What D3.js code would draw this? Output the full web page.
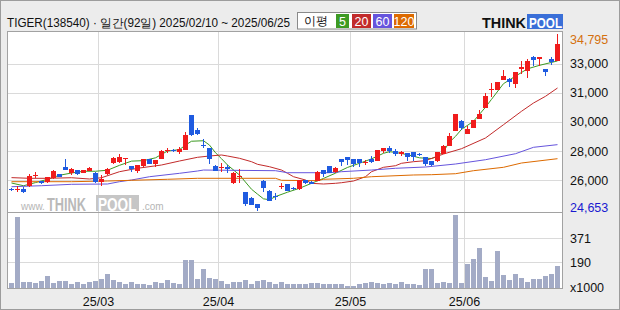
<!DOCTYPE html>
<html>
<head>
<meta charset="utf-8">
<script src="https://cdn.jsdelivr.net/npm/d3@7"></script>
<style>
  body { margin: 0; background: #fff; }
  svg { display: block; }
  text { font-family: "Liberation Sans", Arial, sans-serif; }
</style>
</head>
<body>
<div id="chart"></div>
<script>
// trading days 2025/02/10 ~ 2025/06/25 (92)
const dates = [
  "02/10","02/11","02/12","02/13","02/14","02/17","02/18","02/19","02/20","02/21","02/24","02/25","02/26","02/27","02/28",
  "03/04","03/05","03/06","03/07","03/10","03/11","03/12","03/13","03/14","03/17","03/18","03/19","03/20","03/21","03/24","03/25","03/26","03/27","03/28","03/31",
  "04/01","04/02","04/03","04/04","04/07","04/08","04/09","04/10","04/11","04/14","04/15","04/16","04/17","04/18","04/21","04/22","04/23","04/24","04/25","04/28","04/29","04/30",
  "05/02","05/07","05/08","05/09","05/12","05/13","05/14","05/15","05/16","05/19","05/20","05/21","05/22","05/23","05/26","05/27","05/28","05/29","05/30",
  "06/02","06/04","06/05","06/09","06/10","06/11","06/12","06/13","06/16","06/17","06/18","06/19","06/20","06/23","06/24","06/25"
];
const opens = [25910,25890,25895,26100,26685,26370,26295,26525,26775,27190,26815,27000,26845,26960,26815,
  26295,26755,27385,27480,27670,27230,26960,27230,27615,27330,27630,28100,28150,28015,28150,30155,29295,28445,28245,27250,
  27185,27190,26240,26615,25725,25415,25055,26390,25800,25535,26085,26190,25965,25895,26430,26335,26390,27000,27230,26870,27630,27730,
  27630,27630,27440,27630,27535,28090,28245,28110,27920,27960,28015,27905,27730,27500,27500,27935,28395,29255,29795,
  29080,29410,29925,30555,31630,31605,32175,32235,31930,32805,32690,33475,33380,32790,33360,33265];
const highs = [25990,26085,26045,26755,26905,26400,26610,27000,26800,27615,27115,27020,27030,27190,26905,
  26715,27090,27730,27920,27690,27250,27310,27640,27640,27600,28120,28245,28220,28305,29160,30180,29390,28760,28270,27270,
  27420,27290,26870,27040,25750,25440,25080,26410,25830,25665,26275,26210,26000,26450,26450,26355,26930,27020,27250,27160,27650,27750,
  27650,27650,27575,27805,28170,28265,28375,28190,28070,27980,28040,27975,27750,27520,28060,28420,29120,30230,29885,
  29505,29870,30455,31415,31985,32065,32750,32255,32640,33230,33360,33515,33480,32810,33460,34795];
const lows = [25800,25760,25695,26045,26525,26210,26270,26500,26600,26980,26715,26730,26820,26940,26240,
  26100,26730,27360,27385,27290,26870,26845,27200,27330,27190,27610,27960,28050,27900,28120,28950,29030,28245,27345,26940,
  26905,26845,26215,26275,24955,24975,24653,25760,25200,25285,25895,25790,25880,25870,26215,26180,26370,26620,26820,26850,27250,27290,
  27155,27190,27290,27420,27510,27960,27960,27820,27820,27535,27535,27805,27230,27215,27480,27915,28375,29235,29310,
  29060,29390,29905,30535,31185,31585,32155,31760,31700,32520,32275,32945,32945,32370,33000,33245];
const closes = [25885,25910,25725,26660,26705,26240,26585,26945,26620,27000,27040,26755,27000,27100,26330,
  26505,27060,27705,27730,27680,27075,27290,27615,27355,27575,28090,28120,28130,28205,29005,29005,29050,28430,27615,26960,
  27200,27040,26845,26630,25055,25000,24805,25955,25225,25520,26100,25810,25955,26430,26240,26200,26905,26775,26845,27135,27445,27575,
  27330,27385,27455,27445,28150,28245,28090,27920,28050,27765,27730,27890,27345,27305,28035,28395,28965,30210,29410,
  29350,29850,30210,31225,31645,32045,32370,32045,32615,32885,33230,33320,33460,32635,33205,34240];
// volume, x1000
const volumes = [33,534,40,40,35,50,86,35,48,48,28,40,30,40,48,
  63,101,55,43,30,40,30,30,18,40,35,55,35,30,206,206,63,138,70,65,
  50,30,38,43,55,28,50,55,40,30,40,25,28,25,30,33,33,23,28,28,23,15,
  15,30,33,40,33,30,33,23,38,28,28,18,143,143,35,40,35,551,35,
  176,214,297,81,50,274,93,55,101,70,40,63,63,86,100,161];

// moving averages: [day index, value]
const ma5 = [[0,26257],[2,26100],[4,26280],[6,26470],[8,26700],[10,26830],[12,26930],[14,26930],[16,26990],[18,27270],
  [20,27510],[22,27540],[24,27700],[26,28090],[28,28170],[29,28430],[30,28650],[32,28680],[33,28430],[34,27990],[35,27650],
  [36,27290],[38,26716],[40,25900],[41,25620],[42,25350],[43,25300],[44,25480],[46,25730],[48,25954],[50,26240],[52,26520],
  [54,26820],[56,27150],[58,27386],[60,27640],[62,27960],[63,28050],[64,28010],[66,27880],[68,27700],[70,27660],[71,27780],
  [72,28074],[73,28600],[74,28930],[75,29330],[77,29793],[79,30600],[80,31050],[82,31950],[84,32380],[86,32800],[88,33000],[91,33250]];
const ma20 = [[0,26565],[3,26526],[6,26526],[10,26560],[13,26486],[15,26560],[18,26905],[21,27100],[25,27288],[28,27518],
  [31,27730],[33,27804],[35,27862],[36,27804],[38,27672],[40,27478],[41,27329],[43,27190],[45,27000],[46,26813],[47,26618],
  [49,26429],[50,26240],[52,26200],[54,26240],[55,26274],[57,26372],[59,26618],[60,26905],[62,27157],[64,27248],[65,27386],
  [67,27478],[69,27535],[72,27919],[75,28223],[79,28836],[82,29598],[85,30366],[87,30841],[89,31225],[91,31700]];
const ma60 = [[0,26045],[5,26102],[10,26183],[16,26200],[18,26332],[20,26429],[23,26618],[28,26813],[31,26945],[32,27000],
  [44,26962],[46,26847],[53,26847],[55,26905],[60,27000],[64,27100],[69,27174],[74,27346],[79,27592],[84,27936],[87,28303],[91,28455]];
const ma120 = [[0,26332],[10,26332],[16,26372],[20,26412],[26,26470],[31,26526],[44,26526],[45,26412],[51,26389],[52,26470],
  [57,26526],[60,26618],[67,26716],[70,26733],[74,26790],[77,26962],[82,27157],[85,27403],[91,27650]];

const priceHigh = 34795, priceLow = 24653;
const priceTicks = [33080, 31430, 29770, 28090, 26410];
const priceTickLabels = ["33,000", "31,000", "30,000", "28,000", "26,000"];
const volTicks = [371, 190];
const volMax = 570;

const maNames = ["5", "20", "60", "120"];
const maColors = ["#3d9a23", "#c22b2b", "#6655dd", "#dd6a00"];
const upColor = "#f01c1c", downColor = "#1f5be0";

const W = 620, H = 310;
const plot = {left: 7.5, right: 562.5, top: 31.5, mid: 212.5, bottom: 288};

const svg = d3.select("#chart").append("svg")
  .attr("width", W).attr("height", H)
  .attr("viewBox", `0 0 ${W} ${H}`);

svg.append("rect").attr("x", 0.5).attr("y", 0.5).attr("width", W - 1).attr("height", H - 1)
  .attr("fill", "#ececec").attr("stroke", "#9c9c9c");
svg.append("rect").attr("x", plot.left).attr("y", plot.top)
  .attr("width", plot.right - plot.left).attr("height", plot.bottom - plot.top)
  .attr("fill", "#fff");

const xScale = d3.scaleBand().domain(d3.range(dates.length)).range([8.5, 8.5 + 6 * dates.length]);
const xc = i => xScale(i) + xScale.bandwidth() / 2;
const yScale = d3.scaleLinear().domain([priceLow, priceHigh]).range([211, 34]);
const vScale = d3.scaleLinear().domain([0, volMax]).range([287.5, 212]);

const grid = svg.append("g").attr("stroke", "#dadada").attr("shape-rendering", "crispEdges");
priceTicks.forEach(v => {
  grid.append("line").attr("x1", plot.left).attr("x2", plot.right)
    .attr("y1", Math.round(yScale(v)) + 0.5).attr("y2", Math.round(yScale(v)) + 0.5);
});
volTicks.forEach(v => {
  grid.append("line").attr("x1", plot.left).attr("x2", plot.right)
    .attr("y1", Math.round(vScale(v)) + 0.5).attr("y2", Math.round(vScale(v)) + 0.5);
});
const monthStarts = d3.range(1, dates.length).filter(i => dates[i].slice(0, 2) !== dates[i - 1].slice(0, 2));
monthStarts.forEach(i => {
  grid.append("line").attr("x1", xScale(i) - 0.5).attr("x2", xScale(i) - 0.5)
    .attr("y1", plot.top).attr("y2", plot.bottom);
});

// watermark
const wm = svg.append("g").attr("font-weight", "bold");
wm.append("text").attr("x", 21).attr("y", 210).attr("font-size", 10).attr("font-weight", "normal")
  .attr("fill", "#b5b5b5").text("www.");
wm.append("text").attr("transform", "translate(47,210.5) scale(0.8,1.15)").attr("font-size", 16)
  .attr("fill", "#b9b9b9").text("THINK");
wm.append("rect").attr("x", 96).attr("y", 195).attr("width", 43).attr("height", 16).attr("fill", "#c6c6c6");
wm.append("text").attr("transform", "translate(98,210.5) scale(0.85,1.15)").attr("font-size", 16)
  .attr("fill", "#fff").text("POOL");
wm.append("text").attr("x", 142).attr("y", 210).attr("font-size", 10).attr("font-weight", "normal")
  .attr("fill", "#b5b5b5").text(".com");

// volume bars
svg.append("g").attr("shape-rendering", "crispEdges").selectAll("rect")
  .data(volumes).join("rect")
  .attr("x", (d, i) => Math.round(xc(i) - 2.5))
  .attr("width", 5)
  .attr("y", d => vScale(d))
  .attr("height", d => vScale(0) - vScale(d))
  .attr("fill", "#a3abc6");

// moving averages
const line = d3.line().x(d => xc(d[0])).y(d => yScale(d[1]));
[ma5, ma20, ma60, ma120].forEach((s, k) => {
  svg.append("path").datum(s).attr("d", line)
    .attr("fill", "none").attr("stroke", maColors[k]).attr("stroke-width", 1);
});

// candles
const candles = svg.append("g").attr("shape-rendering", "crispEdges").selectAll("g")
  .data(d3.range(dates.length)).join("g")
  .attr("fill", i => closes[i] >= opens[i] ? upColor : downColor)
  .attr("stroke", i => closes[i] >= opens[i] ? upColor : downColor);
candles.append("line")
  .attr("x1", i => Math.floor(xc(i)) + 0.5).attr("x2", i => Math.floor(xc(i)) + 0.5)
  .attr("y1", i => yScale(highs[i])).attr("y2", i => yScale(lows[i]));
candles.append("rect")
  .attr("stroke", "none")
  .attr("x", i => Math.floor(xc(i)) - 2)
  .attr("width", 5)
  .attr("y", i => yScale(Math.max(opens[i], closes[i])))
  .attr("height", i => Math.max(1, yScale(Math.min(opens[i], closes[i])) - yScale(Math.max(opens[i], closes[i]))));

// frame of panels
const fr = svg.append("g").attr("fill", "none").attr("stroke", "#a2a2a2").attr("shape-rendering", "crispEdges");
fr.append("rect").attr("x", plot.left).attr("y", plot.top)
  .attr("width", plot.right - plot.left).attr("height", plot.bottom - plot.top);
fr.append("line").attr("x1", plot.left).attr("x2", plot.right).attr("y1", plot.mid).attr("y2", plot.mid);

// right axis labels
const ax = svg.append("g").attr("font-size", 12.5).attr("fill", "#111");
priceTicks.forEach((v, k) => {
  ax.append("text").attr("x", 570).attr("y", yScale(v)).attr("dy", "0.36em").text(priceTickLabels[k]);
});
ax.append("text").attr("x", 570).attr("y", Math.max(39, yScale(priceHigh))).attr("dy", "0.36em")
  .attr("fill", "#d4700e").text(d3.format(",")(priceHigh));
ax.append("text").attr("x", 570).attr("y", Math.min(207, yScale(priceLow))).attr("dy", "0.36em")
  .attr("fill", "#1a1ad0").text(d3.format(",")(priceLow));
volTicks.forEach(v => {
  ax.append("text").attr("x", 570).attr("y", vScale(v)).attr("dy", "0.36em").text(v);
});
ax.append("text").attr("x", 570).attr("y", 287).attr("dy", "0.36em").text("x1000");

// bottom month labels
monthStarts.forEach(i => {
  svg.append("text").attr("x", xScale(i)).attr("y", 301).attr("dy", "0.36em")
    .attr("text-anchor", "middle").attr("font-size", 12.5).attr("fill", "#111")
    .text("25/" + dates[i].slice(0, 2));
});

// title
svg.append("text").attr("x", 7).attr("y", 26.5).attr("font-size", 12)
  .attr("font-family", "'Noto Sans CJK KR', sans-serif").attr("fill", "#111")
  .attr("textLength", 283).attr("lengthAdjust", "spacingAndGlyphs")
  .text("TIGER(138540) · 일간(92일) 2025/02/10 ~ 2025/06/25");

// legend
const lg = svg.append("g");
lg.append("rect").attr("x", 297.5).attr("y", 12.5).attr("width", 119).attr("height", 16.5)
  .attr("fill", "#fff").attr("stroke", "#8a8a8a");
lg.append("text").attr("x", 304).attr("y", 25).attr("font-size", 11.5)
  .attr("font-family", "'Noto Sans CJK KR', sans-serif").attr("fill", "#111").text("이평");
const boxX = [336, 352, 373, 394];
const boxW = [13, 19, 19, 20];
maNames.forEach((n, k) => {
  lg.append("rect").attr("x", boxX[k]).attr("y", 14).attr("width", boxW[k]).attr("height", 14).attr("fill", maColors[k]);
  lg.append("text").attr("x", boxX[k] + boxW[k] / 2).attr("y", 25.5).attr("text-anchor", "middle")
    .attr("font-size", 12.5).attr("fill", "#fff").text(n);
});

// logo
const logo = svg.append("g").attr("font-weight", "bold").attr("font-size", 15);
logo.append("text").attr("x", 482).attr("y", 27.5).attr("fill", "#111")
  .attr("textLength", 44).attr("lengthAdjust", "spacingAndGlyphs").text("THINK");
logo.append("rect").attr("x", 527).attr("y", 14).attr("width", 36).attr("height", 15).attr("fill", "#3a6fd8");
logo.append("text").attr("x", 529).attr("y", 27.5).attr("fill", "#fff")
  .attr("textLength", 33).attr("lengthAdjust", "spacingAndGlyphs").text("POOL");
</script>
</body>
</html>
